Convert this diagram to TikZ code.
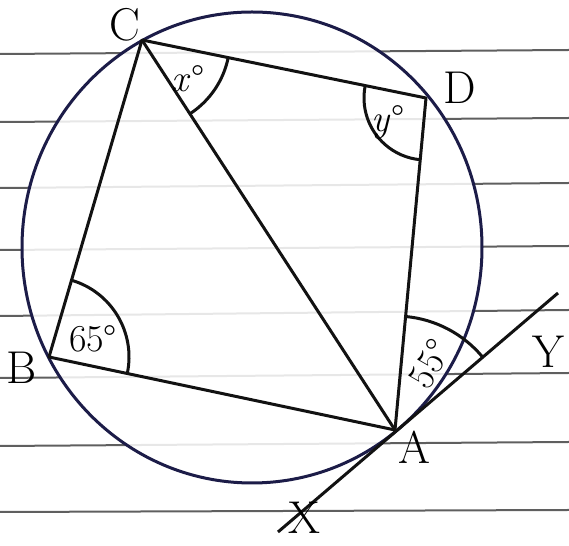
\documentclass[tikz,border=0pt]{standalone}
\usepackage{tikz}
\usetikzlibrary{angles}
\definecolor{pen}{RGB}{18,18,18}
\definecolor{inkblue}{RGB}{28,28,72}
\definecolor{ruled}{RGB}{95,95,95}

\begin{document}
\begin{tikzpicture}[x=.5pt,y=.5pt,line width=1.5pt,every node/.style={font=\fontsize{23}{27}\selectfont,inner sep=1pt},anglab/.style={font=\fontsize{19}{22}\selectfont}]
        \useasboundingbox (0,0) rectangle (569,546);
        % ruled paper
        \foreach \yl/\yr in {492/496,424/428,358/363,296/300,230/236,168/173,100/104,34/36}
          \draw[ruled,line width=1pt] (0,\yl) -- (569,\yr);
        \fill[white,opacity=.85] (252,298.5) ellipse [x radius=230,y radius=235.5];
        \coordinate (A) at (395,116);
        \coordinate (B) at (49,189);
        \coordinate (C) at (142,506);
        \coordinate (D) at (426,448);
        \coordinate (X) at (278,14);
        \coordinate (Y) at (558,253);
        \draw[inkblue] (252,298.5) ellipse [x radius=230,y radius=235.5];
        \draw[pen,line join=round] (A) -- (B) -- (C) -- (D) -- cycle;
        \draw[pen] (C) -- (A);
        \draw[pen] (X) -- (Y);
        \pic[draw=pen,angle radius=44pt] {angle=A--C--D};
        \pic[draw=pen,angle radius=31pt] {angle=C--D--A};
        \pic[draw=pen,angle radius=40pt] {angle=A--B--C};
        \pic[draw=pen,angle radius=57pt] {angle=Y--A--D};
        \node (lA) at (414,99) {A};
        \node (lB) at (22,178) {B};
        \node (lC) at (125,521) {C};
        \node (lD) at (460,458) {D};
        \node (lX) at (304,28) {X};
        \node (lY) at (548,194) {Y};
        \node[anglab] (ax) at (188,467) {\textit{x}°};
        \node[anglab] (ay) at (388,424) {\textit{y}°};
        \node[anglab] (ab) at (93,207) {65°};
        \node[anglab,rotate=60] (aa) at (430,182) {55°};
      \end{tikzpicture}
\end{document}
